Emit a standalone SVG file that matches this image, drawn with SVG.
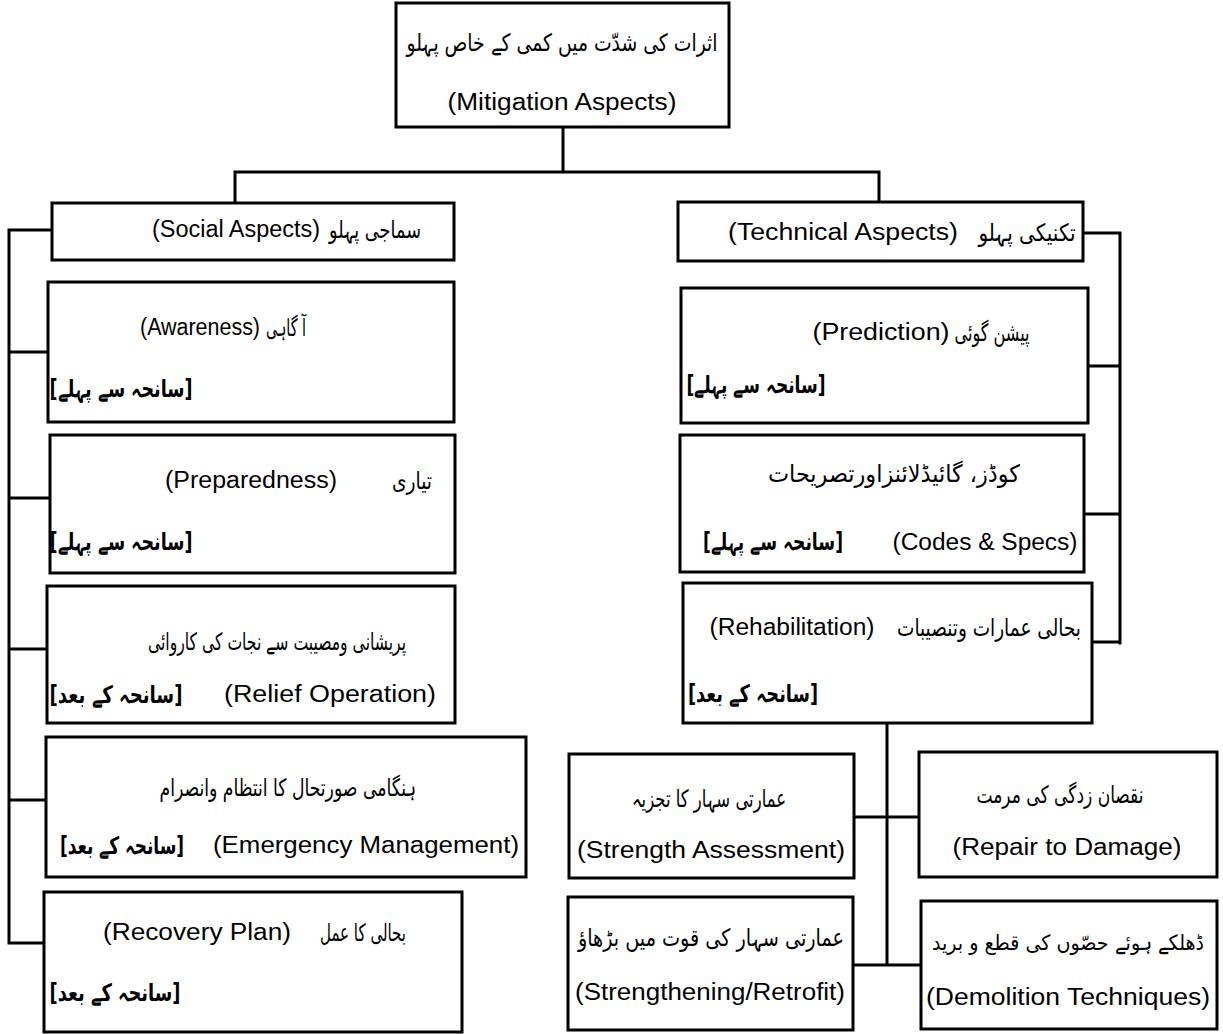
<svg xmlns="http://www.w3.org/2000/svg" width="1223" height="1034" viewBox="0 0 1223 1034">
  <style>
    .box { fill: #fff; stroke: #000; stroke-width: 3; }
    .ln { fill: none; stroke: #000; stroke-width: 3; stroke-linecap: square; }
    .en { font-family: "Liberation Sans", Arial, sans-serif; font-size: 23px; fill: #000; text-anchor: middle; }
    .ur { font-family: "DejaVu Sans", "Noto Sans", sans-serif; font-size: 24px; fill: #000; text-anchor: middle; }
    .tag { font-family: "DejaVu Sans", "Noto Sans", sans-serif; font-size: 24px; font-weight: bold; fill: #000; text-anchor: middle; }
  </style>
  <rect width="1223" height="1034" fill="#fff"/>

  <!-- connectors -->
  <g id="connectors">
    <path class="ln" d="M563 127 V172 M235 172 H879 M235 172 V203 M879 172 V202"/>
    <!-- social bus -->
    <path class="ln" d="M9 230 V943 M9 230 H52 M9 352 H48 M9 498 H50 M9 649 H47 M9 800 H46 M9 943 H44"/>
    <!-- technical bus -->
    <path class="ln" d="M1120 233 V643 M1083 233 H1120 M1088 366 H1120 M1084 514 H1120 M1092 642 H1120"/>
    <!-- rehabilitation branches -->
    <path class="ln" d="M887 723 V965 M854 817 H919 M853 965 H921"/>
  </g>

  <!-- root -->
  <g id="mitigation">
    <rect class="box" x="396" y="3" width="333" height="124"/>
    <text class="ur" x="562" y="51" textLength="311" lengthAdjust="spacingAndGlyphs">اثرات کی شدّت میں کمی کے خاص پہلو</text>
    <text class="en" x="562" y="110" textLength="229" lengthAdjust="spacingAndGlyphs">(Mitigation Aspects)</text>
  </g>

  <!-- social branch -->
  <g id="social">
    <rect class="box" x="52" y="203" width="402" height="57"/>
    <text class="en" x="236" y="237" textLength="168" lengthAdjust="spacingAndGlyphs">(Social Aspects)</text>
    <text class="ur" x="375" y="238" textLength="92" lengthAdjust="spacingAndGlyphs">سماجی پہلو</text>
  </g>

  <g id="awareness">
    <rect class="box" x="48" y="282" width="406" height="140"/>
    <text class="en" x="200" y="335" textLength="120" lengthAdjust="spacingAndGlyphs">(Awareness)</text>
    <text class="ur" x="286" y="336" textLength="40" lengthAdjust="spacingAndGlyphs">آ گاہی</text>
    <text class="tag" x="121" y="397" textLength="143" lengthAdjust="spacingAndGlyphs">[سانحہ سے پہلے]</text>
  </g>

  <g id="preparedness">
    <rect class="box" x="50" y="435" width="405" height="138"/>
    <text class="en" x="251" y="488" textLength="172" lengthAdjust="spacingAndGlyphs">(Preparedness)</text>
    <text class="ur" x="412" y="489" textLength="40" lengthAdjust="spacingAndGlyphs">تیاری</text>
    <text class="tag" x="121" y="550" textLength="143" lengthAdjust="spacingAndGlyphs">[سانحہ سے پہلے]</text>
  </g>

  <g id="relief">
    <rect class="box" x="47" y="586" width="408" height="137"/>
    <text class="ur" x="277" y="650" textLength="258" lengthAdjust="spacingAndGlyphs">پریشانی ومصیبت سے نجات کی کاروائی</text>
    <text class="en" x="330" y="702" textLength="212" lengthAdjust="spacingAndGlyphs">(Relief  Operation)</text>
    <text class="tag" x="116" y="703" textLength="133" lengthAdjust="spacingAndGlyphs">[سانحہ کے بعد]</text>
  </g>

  <g id="emergency">
    <rect class="box" x="46" y="737" width="480" height="140"/>
    <text class="ur" x="288" y="796" textLength="257" lengthAdjust="spacingAndGlyphs">ہنگامی صورتحال کا انتظام وانصرام</text>
    <text class="en" x="366" y="853" textLength="306" lengthAdjust="spacingAndGlyphs">(Emergency  Management)</text>
    <text class="tag" x="122" y="854" textLength="124" lengthAdjust="spacingAndGlyphs">[سانحہ کے بعد]</text>
  </g>

  <g id="recovery">
    <rect class="box" x="44" y="892" width="418" height="140"/>
    <text class="en" x="197" y="940" textLength="188" lengthAdjust="spacingAndGlyphs">(Recovery Plan)</text>
    <text class="ur" x="363" y="941" textLength="86" lengthAdjust="spacingAndGlyphs">بحالی کا عمل</text>
    <text class="tag" x="115" y="1001" textLength="131" lengthAdjust="spacingAndGlyphs">[سانحہ کے بعد]</text>
  </g>

  <!-- technical branch -->
  <g id="technical">
    <rect class="box" x="678" y="202" width="405" height="59"/>
    <text class="en" x="843" y="240" textLength="230" lengthAdjust="spacingAndGlyphs">(Technical Aspects)</text>
    <text class="ur" x="1027" y="241" textLength="97" lengthAdjust="spacingAndGlyphs">تکنیکی پہلو</text>
  </g>

  <g id="prediction">
    <rect class="box" x="681" y="288" width="407" height="135"/>
    <text class="en" x="881" y="340" textLength="137" lengthAdjust="spacingAndGlyphs">(Prediction)</text>
    <text class="ur" x="992" y="341" textLength="75" lengthAdjust="spacingAndGlyphs">پیشن گوئی</text>
    <text class="tag" x="756" y="393" textLength="139" lengthAdjust="spacingAndGlyphs">[سانحہ سے پہلے]</text>
  </g>

  <g id="codes">
    <rect class="box" x="680" y="435" width="404" height="137"/>
    <text class="ur" x="894" y="482" textLength="252" lengthAdjust="spacingAndGlyphs">کوڈز،  گائیڈلائنزاورتصریحات</text>
    <text class="en" x="985" y="550" textLength="185" lengthAdjust="spacingAndGlyphs">(Codes &amp; Specs)</text>
    <text class="tag" x="773" y="550" textLength="140" lengthAdjust="spacingAndGlyphs">[سانحہ سے پہلے]</text>
  </g>

  <g id="rehabilitation">
    <rect class="box" x="683" y="583" width="409" height="140"/>
    <text class="en" x="792" y="635" textLength="165" lengthAdjust="spacingAndGlyphs">(Rehabilitation)</text>
    <text class="ur" x="989" y="636" textLength="184" lengthAdjust="spacingAndGlyphs">بحالی عمارات وتنصیبات</text>
    <text class="tag" x="753" y="702" textLength="130" lengthAdjust="spacingAndGlyphs">[سانحہ کے بعد]</text>
  </g>

  <g id="strength-assessment">
    <rect class="box" x="569" y="754" width="285" height="124"/>
    <text class="ur" x="709" y="807" textLength="154" lengthAdjust="spacingAndGlyphs">عمارتی سہار کا تجزیہ</text>
    <text class="en" x="711" y="858" textLength="268" lengthAdjust="spacingAndGlyphs">(Strength  Assessment)</text>
  </g>

  <g id="repair">
    <rect class="box" x="919" y="752" width="298" height="125"/>
    <text class="ur" x="1060" y="803" textLength="167" lengthAdjust="spacingAndGlyphs">نقصان زدگی کی مرمت</text>
    <text class="en" x="1067" y="855" textLength="229" lengthAdjust="spacingAndGlyphs">(Repair to Damage)</text>
  </g>

  <g id="strengthening">
    <rect class="box" x="568" y="897" width="285" height="133"/>
    <text class="ur" x="711" y="946" textLength="266" lengthAdjust="spacingAndGlyphs">عمارتی سہار کی قوت میں بڑھاؤ</text>
    <text class="en" x="710" y="1000" textLength="270" lengthAdjust="spacingAndGlyphs">(Strengthening/Retrofit)</text>
  </g>

  <g id="demolition">
    <rect class="box" x="921" y="901" width="296" height="128"/>
    <text class="ur" x="1068" y="950" style="font-size:21px" textLength="272" lengthAdjust="spacingAndGlyphs">ڈھلکے ہوئے حصّوں کی قطع و برید</text>
    <text class="en" x="1068" y="1005" textLength="284" lengthAdjust="spacingAndGlyphs">(Demolition  Techniques)</text>
  </g>
</svg>
